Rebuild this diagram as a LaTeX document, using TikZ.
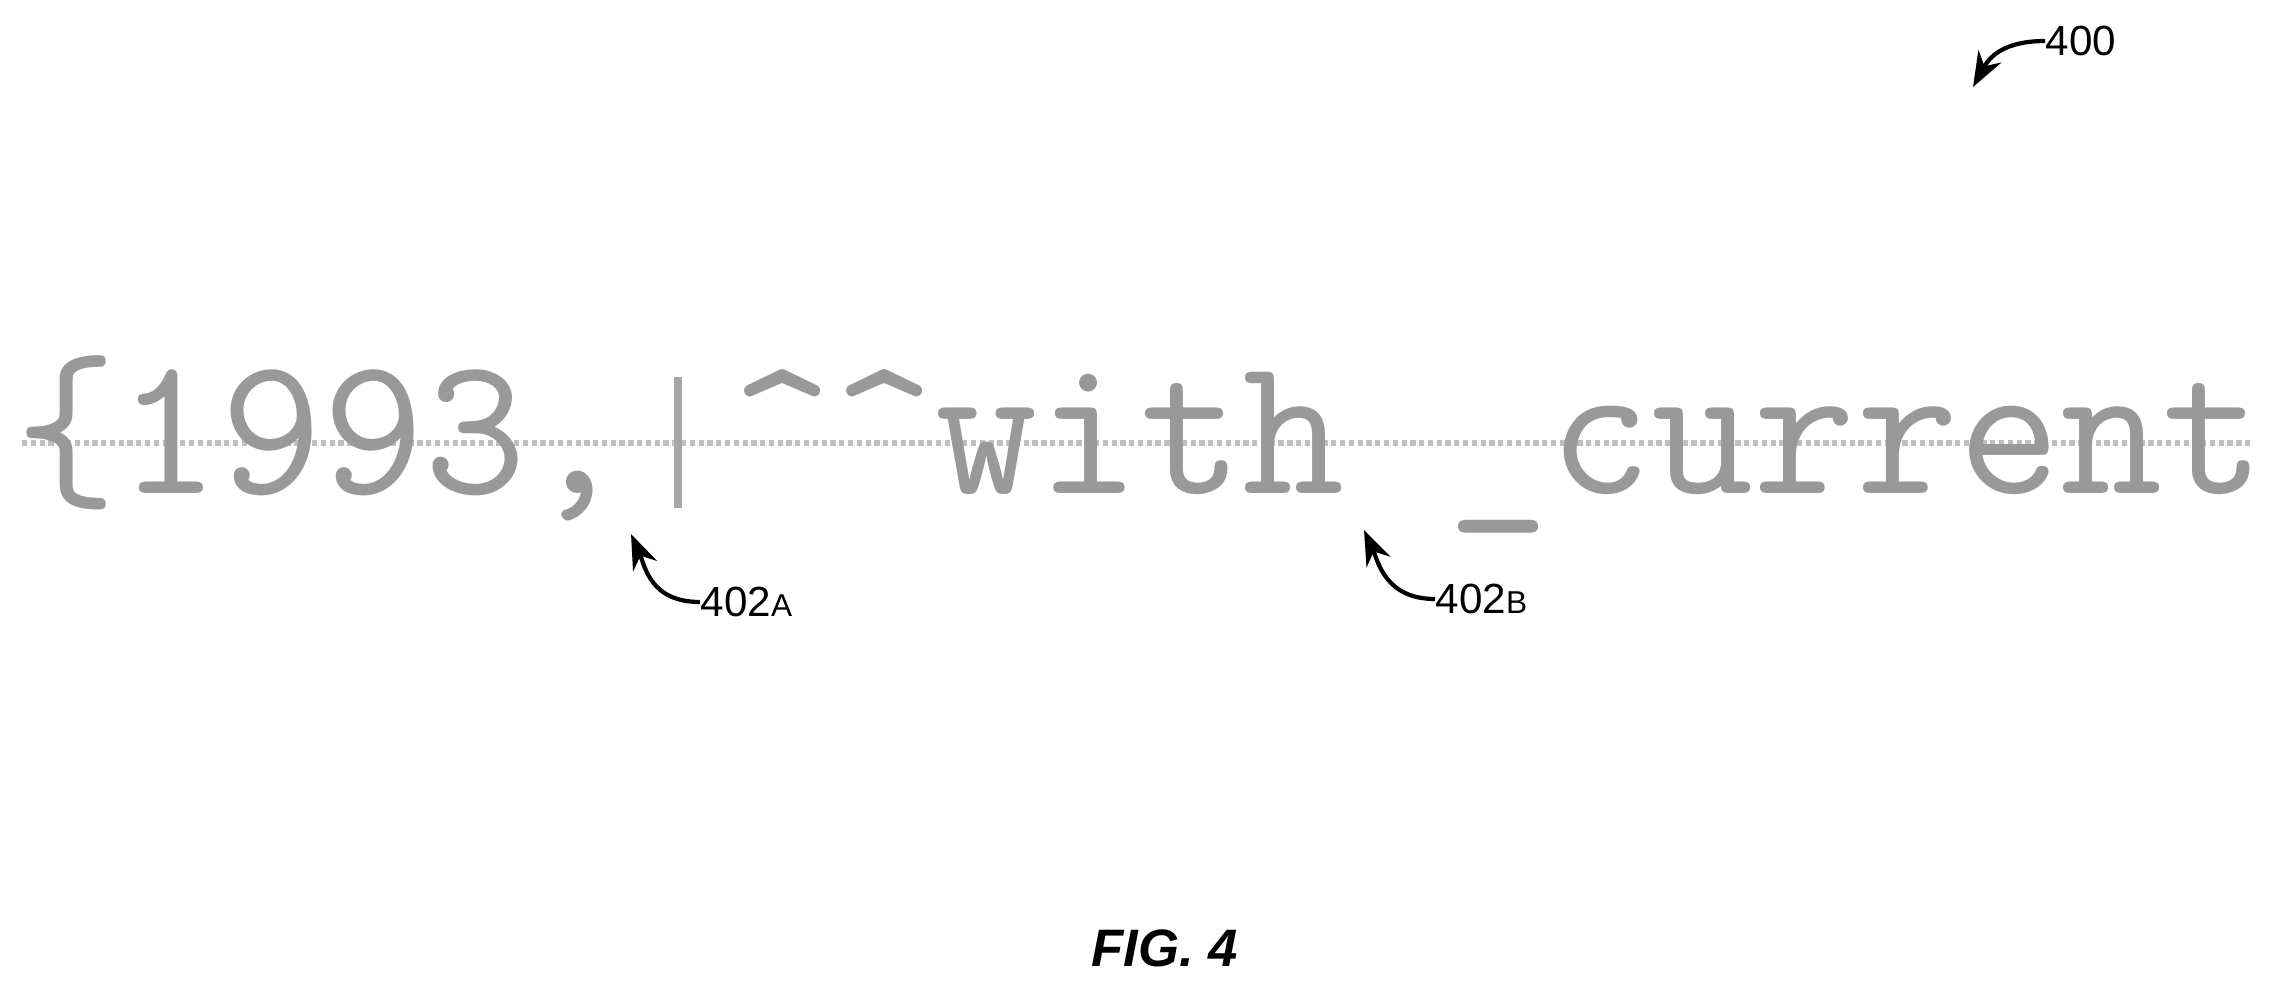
\documentclass[tikz,border=0pt]{standalone}
\usepackage{fontspec}
\usetikzlibrary{arrows.meta}
\setmainfont{Liberation Sans}
\begin{document}
\begin{tikzpicture}[x=1cm,y=1cm,
  lbl/.style={font=\fontsize{12}{14}\selectfont, inner sep=0pt},
  ptr/.style={-{Stealth[length=3.5mm,width=2.6mm]}, line width=1.2pt},
  big/.style={font=\ttfamily\fontsize{56.5}{58}\selectfont, text=black!40, inner sep=0pt}]
\useasboundingbox (0,0) rectangle (22.75,9.86);
\fill[white] (0,0) rectangle (22.75,9.86);
\draw[black!25, line width=1.5pt, densely dotted] (0.22,5.43) -- (22.5,5.43);
\node[big, anchor=base west] (txt) at (0.15,4.93) {\{1993, \^{}\^{}with \_current};
\draw[black!35, line width=2pt] (6.78,6.09) -- (6.78,4.78);
\node[lbl, anchor=west] (la) at (7.0,3.84) {402{\fontsize{9}{10}\selectfont A}};
\coordinate (ta) at (6.31,4.52);
\draw[ptr] (la.west) .. controls (6.5,3.84) and (6.45,4.2) .. (ta);
\node[lbl, anchor=west] (lb) at (14.35,3.87) {402{\fontsize{9}{10}\selectfont B}};
\coordinate (tb) at (13.64,4.56);
\draw[ptr] (lb.west) .. controls (13.85,3.87) and (13.78,4.25) .. (tb);
\node[lbl, anchor=west] (l4) at (20.45,9.45) {400};
\coordinate (t4) at (19.73,8.99);
\draw[ptr] (l4.west) .. controls (20.05,9.45) and (19.9,9.3) .. (t4);
\node[font=\bfseries\itshape\fontsize{15}{18}\selectfont] (fig) at (11.65,0.38) {FIG. 4};
\end{tikzpicture}
\end{document}
